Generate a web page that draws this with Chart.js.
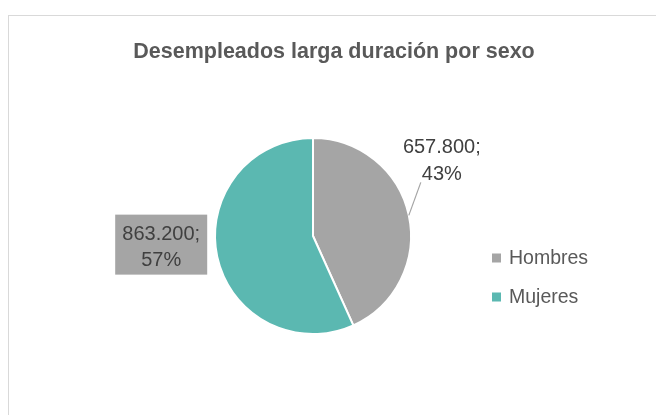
<!DOCTYPE html>
<html><head><meta charset="utf-8">
<script src="https://cdn.jsdelivr.net/npm/chart.js@4.4.1/dist/chart.umd.min.js"></script>
<style>
html,body{margin:0;padding:0;background:#fff;overflow:hidden;}
#frame{position:absolute;left:8px;top:15px;width:720px;height:460px;border:1px solid #D9D9D9;box-sizing:border-box;}
#wrap{position:absolute;left:0;top:0;width:656px;height:415px;}
</style></head>
<body>
<div id="frame"></div>
<div id="wrap"><canvas id="c" width="656" height="415"></canvas></div>
<script>
const title = "Desempleados larga duración por sexo";
const categories = ["Hombres", "Mujeres"];
const values = [657800, 863200];
const colors = ["#A5A5A5", "#5BB8B1"];

const FONT = '"Liberation Sans", Arial, sans-serif';
const total = values.reduce((a, b) => a + b, 0);
function fmt(v) { return v.toString().replace(/\B(?=(\d{3})+(?!\d))/g, "."); }
function pct(v) { return Math.round(v / total * 100) + "%"; }

const labelPlugin = {
  id: "labels",
  afterDraw(chart) {
    const ctx = chart.ctx;
    const meta = chart.getDatasetMeta(0);
    ctx.save();
    // title
    ctx.fillStyle = "#595959";
    ctx.font = "bold 21.5px " + FONT;
    ctx.textAlign = "center";
    ctx.textBaseline = "middle";
    ctx.fillText(title, 334, 52);

    // Hombres label with leader line
    const a0 = meta.data[0];
    const mid0 = (a0.startAngle + a0.endAngle) / 2;
    const px = a0.x + a0.outerRadius * Math.cos(mid0);
    const py = a0.y + a0.outerRadius * Math.sin(mid0);
    ctx.strokeStyle = "#A5A5A5";
    ctx.lineWidth = 1.2;
    ctx.beginPath();
    ctx.moveTo(px, py);
    ctx.lineTo(px + 12, py - 33);
    ctx.stroke();
    ctx.fillStyle = "#404040";
    ctx.font = "20px " + FONT;
    ctx.fillText(fmt(values[0]) + ";", px + 33, py - 68);
    ctx.fillText(pct(values[0]), px + 33, py - 41);

    // Mujeres boxed label
    const a1 = meta.data[1];
    const mid1 = (a1.startAngle + a1.endAngle) / 2;
    const qx = a1.x + a1.outerRadius * Math.cos(mid1);
    const qy = a1.y + a1.outerRadius * Math.sin(mid1);
    const bx = qx - 102, by = qy - 42, bw = 92, bh = 60;
    ctx.fillStyle = "#A5A5A5";
    ctx.fillRect(bx, by, bw, bh);
    ctx.fillStyle = "#404040";
    ctx.fillText(fmt(values[1]) + ";", bx + bw / 2, by + 20);
    ctx.fillText(pct(values[1]), bx + bw / 2, by + 46);

    // legend
    ctx.textAlign = "left";
    ctx.font = "19.5px " + FONT;
    categories.forEach((c, i) => {
      const y = 258 + i * 39;
      ctx.fillStyle = colors[i];
      ctx.fillRect(492, y - 4.5, 9, 9);
      ctx.fillStyle = "#595959";
      ctx.fillText(c, 509, y + 1);
    });
    ctx.restore();
  }
};

new Chart(document.getElementById("c"), {
  type: "pie",
  data: {
    labels: categories,
    datasets: [{
      data: values,
      backgroundColor: colors,
      borderColor: "#FFFFFF",
      borderWidth: 2
    }]
  },
  options: {
    responsive: false,
    animation: false,
    layout: { padding: { left: 214, right: 244, top: 137, bottom: 80 } },
    plugins: {
      legend: { display: false },
      title: { display: false },
      tooltip: { enabled: false }
    }
  },
  plugins: [labelPlugin]
});
</script>
</body></html>
